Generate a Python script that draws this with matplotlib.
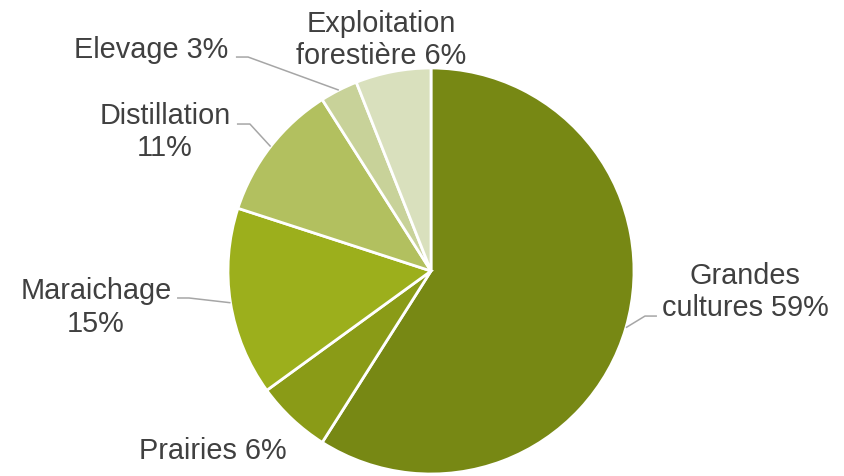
import numpy as np
import matplotlib
matplotlib.use("Agg")
import matplotlib.pyplot as plt

plt.rcParams['font.family'] = ['Liberation Sans', 'DejaVu Sans']

# Share of farms by activity (%)
categories = ["Grandes\ncultures", "Prairies", "Maraichage", "Distillation",
              "Elevage", "Exploitation\nforestière"]
shares = [59, 6, 15, 11, 3, 6]
colors = ["#778814", "#8a9b17", "#9caf1c", "#b2c05f", "#c8d299", "#d9e0bd"]

# label text centres (axes data units, pie radius = 1) and label layout
label_pos = [(1.547, -0.100), (-1.074, -0.880), (-1.650, -0.175),
             (-1.310, 0.690), (-1.377, 1.092), (-0.246, 1.142)]
label_sep = ["\n", " ", "\n", "\n", " ", "\n"]
# leader lines: (elbow, end near text) or None
leaders = [((1.054, -0.222), (1.113, -0.222)), None,
           ((-1.192, -0.133), (-1.251, -0.133)),
           ((-0.892, 0.724), (-0.956, 0.724)),
           ((-0.901, 1.054), (-0.961, 1.054)), None]

fig = plt.figure(figsize=(8.44, 4.77), dpi=100)
ax = fig.add_axes([228 / 844, 2 / 477, 406 / 844, 406 / 477])

wedges, _ = ax.pie(shares, colors=colors, startangle=90, counterclock=False,
                   radius=1.0,
                   wedgeprops=dict(edgecolor="white", linewidth=2.0))
ax.set_xlim(-1, 1)
ax.set_ylim(-1, 1)
ax.set_aspect("equal")
ax.axis("off")

for w, cat, val, pos, sep, lead in zip(wedges, categories, shares, label_pos,
                                       label_sep, leaders):
    if "\n" in cat:
        text = f"{cat} {val}%"
    else:
        text = f"{cat}{sep}{val}%"
    ax.text(pos[0], pos[1], text, ha="center", va="center", fontsize=20.8,
            color="#404040", linespacing=1.2, clip_on=False)
    if lead is not None:
        mid = np.deg2rad((w.theta1 + w.theta2) / 2)
        start = (np.cos(mid), np.sin(mid))
        xs = [start[0], lead[0][0], lead[1][0]]
        ys = [start[1], lead[0][1], lead[1][1]]
        ax.plot(xs, ys, color="#a6a6a6", linewidth=1.1, clip_on=False,
                solid_capstyle="butt")

fig.savefig("out.png", dpi=100)
